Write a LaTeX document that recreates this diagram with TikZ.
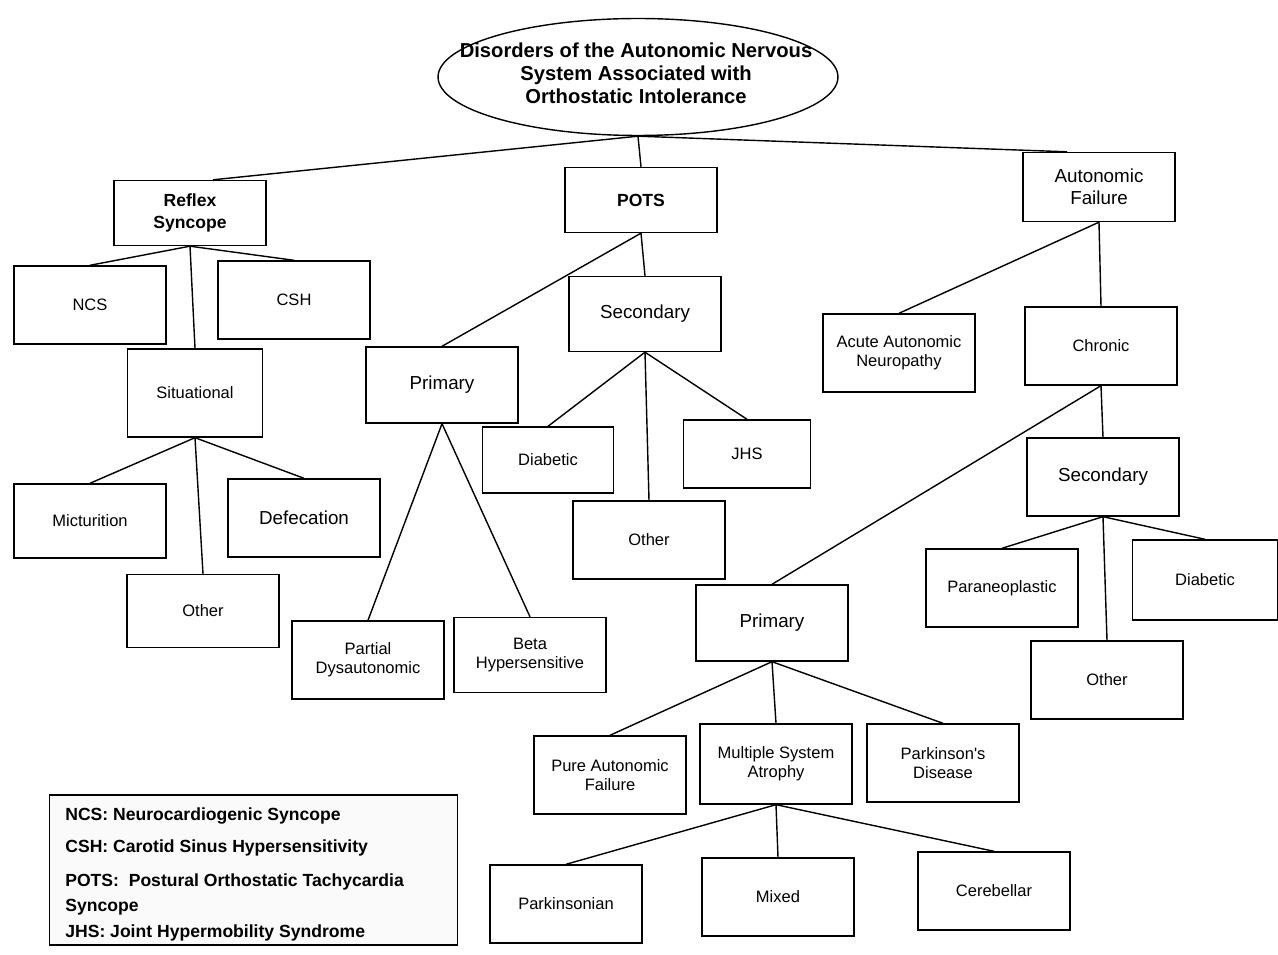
\documentclass[tikz,border=0pt]{standalone}
\usepackage{fontspec}
\setmainfont{Liberation Sans}
\usetikzlibrary{shapes.geometric}
\tikzset{
	catbox/.style={draw, line width=0.8pt, minimum width=3.04cm, minimum height=1.56cm, align=center, inner sep=2pt, font=\fontsize{9.4}{11}\selectfont},
	bigbox/.style={catbox, font=\fontsize{10.7}{12.5}\selectfont},
	headbox/.style={catbox, minimum height=1.3cm, font=\bfseries\fontsize{10}{12.5}\selectfont},
	legendtxt/.style={anchor=west, inner sep=0pt, align=left, font=\bfseries\fontsize{10}{14}\selectfont},
	link/.style={line width=0.8pt}
}

\begin{document}
\begin{tikzpicture}[x=0.02cm, y=-0.02cm]
			%%%%% START %%%%%
			\useasboundingbox (0,0) rectangle (1278,955);
			
			\node[ellipse, draw, line width=0.8pt, minimum width=8cm, minimum height=2.34cm] (rootshape) at (638,77) {};
			\node[align=center, inner sep=0pt, font=\bfseries\fontsize{11.5}{13}\selectfont] (root) at (636,73) {Disorders of the Autonomic Nervous\\System Associated with\\Orthostatic Intolerance};
			
			\node[headbox] (reflex) at (190,213) {Reflex\\Syncope};
			\node[headbox] (pots) at (641,200) {POTS};
			\node[bigbox, minimum height=1.38cm] (autfail) at (1099,187) {Autonomic\\Failure};
			
			\node[catbox] (ncs) at (90,305) {NCS};
			\node[catbox] (csh) at (294,300) {CSH};
			\node[catbox, minimum width=2.7cm, minimum height=1.76cm] (situational) at (195,393) {Situational};
			\node[catbox, minimum height=1.48cm] (micturition) at (90,521) {Micturition};
			\node[bigbox] (defecation) at (304,518) {Defecation};
			\node[catbox, minimum height=1.46cm] (otherreflex) at (203,611) {Other};
			
			\node[bigbox, minimum height=1.52cm] (potsprim) at (442,385) {Primary};
			\node[bigbox, minimum height=1.5cm] (potssec) at (645,314) {Secondary};
			\node[catbox, minimum width=2.62cm, minimum height=1.32cm] (potsdiab) at (548,460) {Diabetic};
			\node[catbox, minimum width=2.54cm, minimum height=1.36cm] (jhs) at (747,454) {JHS};
			\node[catbox] (potsother) at (649,540) {Other};
			\node[catbox] (partial) at (368,660) {Partial\\Dysautonomic};
			\node[catbox, minimum height=1.5cm] (beta) at (530,655) {Beta\\Hypersensitive};
			
			\node[catbox] (acute) at (899,353) {Acute Autonomic\\Neuropathy};
			\node[catbox] (chronic) at (1101,346) {Chronic};
			\node[bigbox] (afsec) at (1103,477) {Secondary};
			\node[catbox] (paraneo) at (1002,588) {Paraneoplastic};
			\node[catbox, minimum width=2.9cm, minimum height=1.6cm] (afdiab) at (1205,580) {Diabetic};
			\node[catbox] (afother) at (1107,680) {Other};
			\node[bigbox, minimum height=1.52cm] (afprim) at (772,623) {Primary};
			
			\node[catbox] (pure) at (610,775) {Pure Autonomic\\Failure};
			\node[catbox, minimum height=1.6cm] (msa) at (776,764) {Multiple System\\Atrophy};
			\node[catbox] (parkinson) at (943,763) {Parkinson\textquotesingle s\\Disease};
			\node[catbox] (parkinsonian) at (566,904) {Parkinsonian};
			\node[catbox] (mixed) at (778,897) {Mixed};
			\node[catbox] (cerebellar) at (994,891) {Cerebellar};
			
			% legend
			\node[draw, line width=0.6pt, fill=black!2, minimum width=8.18cm, minimum height=3cm] (legend) at (253.5,870) {};
			\node[legendtxt] (legncs) at (65,816) {NCS: Neurocardiogenic Syncope};
			\node[legendtxt] (legcsh) at (65,848) {CSH: Carotid Sinus Hypersensitivity};
			\node[legendtxt] (legpots) at (65,894.5) {POTS:\ \ Postural Orthostatic Tachycardia\\Syncope};
			\node[legendtxt] (legjhs) at (65,933) {JHS: Joint Hypermobility Syndrome};
			
			\draw[link] (rootshape.south) -- (pots.north);
			\draw[link] (rootshape.south) -- ([xshift=0.46cm]reflex.north);
			\draw[link] (rootshape.south) -- ([xshift=-0.64cm]autfail.north);
			
			\draw[link] (reflex.south) -- (ncs.north);
			\draw[link] (reflex.south) -- (csh.north);
			\draw[link] (reflex.south) -- (situational.north);
			\draw[link] (situational.south) -- (micturition.north);
			\draw[link] (situational.south) -- (otherreflex.north);
			\draw[link] (situational.south) -- (defecation.north);
			
			\draw[link] (pots.south) -- (potsprim.north);
			\draw[link] (pots.south) -- (potssec.north);
			\draw[link] (potssec.south) -- (potsdiab.north);
			\draw[link] (potssec.south) -- (potsother.north);
			\draw[link] (potssec.south) -- (jhs.north);
			\draw[link] (potsprim.south) -- (partial.north);
			\draw[link] (potsprim.south) -- (beta.north);
			
			\draw[link] (autfail.south) -- (acute.north);
			\draw[link] (autfail.south) -- (chronic.north);
			\draw[link] (chronic.south) -- (afprim.north);
			\draw[link] (chronic.south) -- (afsec.north);
			\draw[link] (afsec.south) -- (paraneo.north);
			\draw[link] (afsec.south) -- (afother.north);
			\draw[link] (afsec.south) -- (afdiab.north);
			
			\draw[link] (afprim.south) -- (pure.north);
			\draw[link] (afprim.south) -- (msa.north);
			\draw[link] (afprim.south) -- (parkinson.north);
			\draw[link] (msa.south) -- (parkinsonian.north);
			\draw[link] (msa.south) -- (mixed.north);
			\draw[link] (msa.south) -- (cerebellar.north);
			
			%%%%% END %%%%%
\end{tikzpicture}
\end{document}
